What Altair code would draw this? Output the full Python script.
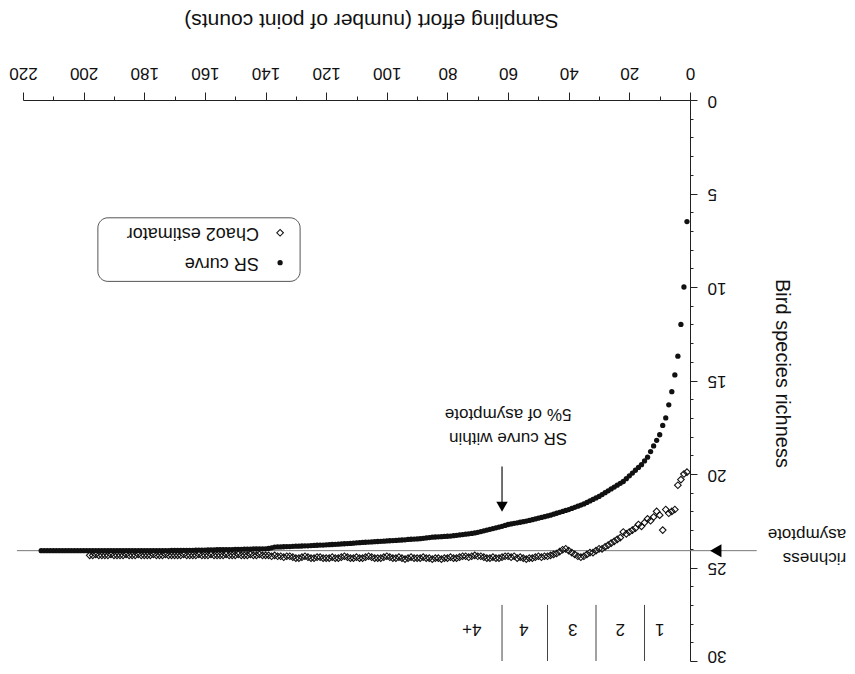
import altair as alt
import pandas as pd

# ---------------- data ----------------
sr_effort = list(range(1, 215))
sr_richness = [
    6.5, 10.0, 12.0, 13.7, 14.7, 15.6, 16.3, 17.0, 17.4, 17.9,
    18.2, 18.5, 18.8, 19.1, 19.3, 19.5, 19.65, 19.8, 19.95, 20.1,
    20.25, 20.4, 20.5, 20.6, 20.7, 20.8, 20.9, 21.0, 21.1, 21.2,
    21.28, 21.36, 21.44, 21.52, 21.6, 21.66, 21.72, 21.78, 21.84, 21.9,
    21.95, 22.0, 22.05, 22.1, 22.15, 22.2, 22.24, 22.28, 22.32, 22.36,
    22.4, 22.44, 22.48, 22.52, 22.55, 22.58, 22.61, 22.64, 22.67, 22.7,
    22.75, 22.8, 22.84, 22.88, 22.92, 22.96, 23.0, 23.04, 23.08, 23.12,
    23.15, 23.18, 23.2, 23.22, 23.24, 23.26, 23.28, 23.3, 23.32, 23.33,
    23.34, 23.35, 23.36, 23.37, 23.38, 23.4, 23.42, 23.44, 23.46, 23.47,
    23.48, 23.49, 23.5, 23.52, 23.53, 23.54, 23.55, 23.56, 23.57, 23.58,
    23.59, 23.6, 23.61, 23.62, 23.63, 23.64, 23.65, 23.66, 23.67, 23.68,
    23.7, 23.71, 23.72, 23.73, 23.74, 23.75, 23.76, 23.77, 23.78, 23.79,
    23.8, 23.8, 23.81, 23.82, 23.83, 23.84, 23.84, 23.85, 23.86, 23.86,
    23.87, 23.88, 23.88, 23.89, 23.9, 23.9, 23.91, 23.95, 23.98, 24.0,
    24.0, 24.0, 24.01, 24.01, 24.02, 24.02, 24.02, 24.03, 24.03, 24.03,
    24.04, 24.04, 24.04, 24.05, 24.05, 24.05, 24.06, 24.06, 24.06, 24.07,
    24.07, 24.07, 24.07, 24.08, 24.08, 24.08, 24.08, 24.09, 24.09, 24.09,
    24.09, 24.1, 24.1, 24.1, 24.1, 24.1, 24.1, 24.1, 24.1, 24.1,
    24.1, 24.1, 24.1, 24.1, 24.1, 24.1, 24.1, 24.1, 24.1, 24.1,
    24.1, 24.1, 24.1, 24.1, 24.1, 24.1, 24.1, 24.1, 24.1, 24.1,
    24.1, 24.1, 24.1, 24.1, 24.1, 24.1, 24.1, 24.1, 24.1, 24.1,
    24.1, 24.1, 24.1, 24.1,
]

chao_effort = list(range(1, 199))
chao_richness = [
    19.9, 20.0, 20.3, 20.6, 21.9, 22.0, 22.1, 21.9, 23.0, 22.2,
    22.0, 22.3, 22.5, 22.4, 22.6, 22.8, 22.7, 22.9, 23.0, 23.1,
    23.2, 23.1, 23.4, 23.5, 23.6, 23.7, 23.8, 23.9, 24.0, 24.0,
    24.1, 24.2, 24.2, 24.3, 24.4, 24.45, 24.4, 24.3, 24.2, 24.1,
    24.0, 24.05, 24.15, 24.25, 24.3, 24.35, 24.4, 24.4, 24.45, 24.4,
    24.45, 24.5, 24.5, 24.55, 24.5, 24.45, 24.5, 24.4, 24.45, 24.4,
    24.4, 24.45, 24.5, 24.5, 24.45, 24.5, 24.5, 24.45, 24.4, 24.4,
    24.35, 24.4, 24.45, 24.4, 24.4, 24.45, 24.5, 24.5, 24.45, 24.5,
    24.5, 24.55, 24.5, 24.5, 24.55, 24.5, 24.5, 24.45, 24.5, 24.5,
    24.5, 24.45, 24.5, 24.55, 24.5, 24.45, 24.5, 24.5, 24.45, 24.4,
    24.45, 24.5, 24.5, 24.5, 24.45, 24.4, 24.45, 24.5, 24.5, 24.45,
    24.5, 24.5, 24.45, 24.4, 24.45, 24.5, 24.5, 24.45, 24.5, 24.5,
    24.5, 24.45, 24.45, 24.5, 24.5, 24.45, 24.4, 24.45, 24.5, 24.5,
    24.45, 24.4, 24.4, 24.45, 24.4, 24.4, 24.35, 24.4, 24.35, 24.35,
    24.35, 24.3, 24.35, 24.35, 24.3, 24.35, 24.35, 24.35, 24.3, 24.35,
    24.35, 24.35, 24.3, 24.35, 24.35, 24.35, 24.35, 24.3, 24.35, 24.35,
    24.35, 24.3, 24.35, 24.35, 24.35, 24.35, 24.3, 24.35, 24.35, 24.35,
    24.35, 24.35, 24.3, 24.35, 24.35, 24.35, 24.3, 24.35, 24.35, 24.35,
    24.35, 24.3, 24.35, 24.35, 24.35, 24.3, 24.35, 24.35, 24.35, 24.35,
    24.3, 24.35, 24.35, 24.35, 24.35, 24.3, 24.35, 24.35,
]

asymptote = 24.1

x_ticks = list(range(0, 221, 10))
y_ticks = list(range(0, 31))

segment_bounds = [15, 31, 47, 62]
segment_labels = ["1", "2", "3", "4", "4+"]
segment_label_x = [10, 23, 38.7, 54.8, 72]

legend_names = ["SR curve", "Chao2 estimator"]

FONT = "Liberation Sans"

# ---------------- scales / axes ----------------
x_scale = alt.Scale(domain=[0, 220], reverse=True, nice=False, zero=False)
y_scale = alt.Scale(domain=[0, 30], reverse=True, nice=False, zero=False)

x_axis = alt.Axis(
    orient="top", values=x_ticks, grid=False,
    labelExpr="datum.value % 20 === 0 ? datum.label : ''",
    labelAngle=180, labelAlign="center", labelBaseline="top",
    labelFlush=False, labelOverlap=False, labelPadding=12,
    labelFont=FONT, labelFontSize=17, labelColor="#111",
    tickSize={"condition": {"test": "datum.value % 20 === 0", "value": 8}, "value": 4},
    tickColor="#222", domainColor="#222",
    title="Sampling effort (number of point counts)",
    titleAngle=180, titleFont=FONT, titleFontSize=21, titleFontWeight="normal",
    titleColor="#111", titleAlign="center", titleBaseline="middle",
    titleX=348, titleY=-81,
)
y_axis = alt.Axis(
    orient="right", values=y_ticks, grid=False,
    labelExpr="datum.value % 5 === 0 ? datum.label : ''",
    labelAngle=180, labelAlign="right", labelBaseline="middle",
    labelFlush=False, labelOverlap=False, labelPadding=10,
    labelOffset={"condition": {"test": "datum.value === 30", "value": -6}, "value": 0},
    labelFont=FONT, labelFontSize=17, labelColor="#111",
    tickSize={"condition": {"test": "datum.value % 5 === 0", "value": 7}, "value": 3},
    tickColor="#222", domainColor="#222",
    title="Bird species richness",
    titleAngle=90, titleFont=FONT, titleFontSize=20, titleFontWeight="normal",
    titleColor="#111", titleAlign="center", titleBaseline="middle",
    titleX=91, titleY=273,
)


def X(field="x"):
    return alt.X(f"{field}:Q", scale=x_scale, axis=x_axis)


def Y(field="y"):
    return alt.Y(f"{field}:Q", scale=y_scale, axis=y_axis)


n_chao = min(len(chao_effort), len(chao_richness))
sr_df = pd.DataFrame({"x": sr_effort, "y": sr_richness})
chao_df = pd.DataFrame({"x": chao_effort[:n_chao], "y": chao_richness[:n_chao]})

# asymptote line and arrow
asym_line = alt.Chart(pd.DataFrame({"x": [222], "x2": [-22], "y": [asymptote]})).mark_rule(
    color="#777", strokeWidth=1
).encode(x=X(), x2="x2:Q", y=Y())

asym_head = alt.Chart(pd.DataFrame({"x": [-8.5], "y": [asymptote]})).mark_point(
    shape="triangle-left", filled=True, color="#000", size=170, opacity=1
).encode(x=X(), y=Y())

sr_pts = alt.Chart(sr_df).mark_circle(color="#111", size=28, opacity=1).encode(x=X(), y=Y())

chao_pts = alt.Chart(chao_df).mark_point(
    shape="diamond", filled=False, color="#111", size=44, strokeWidth=1.1, opacity=1
).encode(x=X(), y=Y())

# SR-within-5% arrow
arrow_df = pd.DataFrame({"x": [62], "y": [19.6], "y2": [21.6]})
arrow_line = alt.Chart(arrow_df).mark_rule(color="#111", strokeWidth=1.2).encode(
    x=X(), y=Y(), y2="y2:Q"
)
arrow_head = alt.Chart(pd.DataFrame({"x": [62], "y": [21.75]})).mark_point(
    shape="triangle-down", filled=True, color="#000", size=130, opacity=1
).encode(x=X(), y=Y())

# annotation texts (upside down, like the reference)
center_text = pd.DataFrame({
    "x": [60, 60],
    "y": [18.1, 16.8],
    "t": ["SR curve within", "5% of asymptote"],
})
center_txt = alt.Chart(center_text).mark_text(
    angle=180, font=FONT, fontSize=17, align="center", baseline="middle", color="#111"
).encode(x=X(), y=Y(), text="t:N")

side_text = pd.DataFrame({
    "x": [-51.5, -51.5],
    "y": [24.5, 23.2],
    "t": ["richness", "asymptote"],
})
side_txt = alt.Chart(side_text).mark_text(
    angle=180, font=FONT, fontSize=17, align="left", baseline="middle", color="#111"
).encode(x=X(), y=Y(), text="t:N")

# segment markers 1..4+
seg_lines = alt.Chart(pd.DataFrame({
    "x": segment_bounds, "y": [27] * 4, "y2": [30] * 4
})).mark_rule(color="#444", strokeWidth=1).encode(x=X(), y=Y(), y2="y2:Q")
seg_txt = alt.Chart(pd.DataFrame({
    "x": segment_label_x, "y": [28.3] * 5, "t": segment_labels
})).mark_text(
    angle=180, font=FONT, fontSize=17, align="center", baseline="middle", color="#111"
).encode(x=X(), y=Y(), text="t:N")

# legend
legend_box = alt.Chart(pd.DataFrame({
    "x": [128.6], "x2": [195.3], "y": [6.3], "y2": [9.7]
})).mark_rect(
    fill="white", fillOpacity=0, stroke="#555", strokeWidth=1, cornerRadius=10
).encode(x=X(), x2="x2:Q", y=Y(), y2="y2:Q")
legend_dot = alt.Chart(pd.DataFrame({"x": [135.2], "y": [8.7]})).mark_circle(
    color="#111", size=28, opacity=1
).encode(x=X(), y=Y())
legend_dia = alt.Chart(pd.DataFrame({"x": [135.2], "y": [7.1]})).mark_point(
    shape="diamond", filled=False, color="#111", size=44, strokeWidth=1.1, opacity=1
).encode(x=X(), y=Y())
legend_txt = alt.Chart(pd.DataFrame({
    "x": [142.2, 142.2], "y": [8.7, 7.1], "t": legend_names
})).mark_text(
    angle=180, font=FONT, fontSize=18, align="left", baseline="middle", color="#111"
).encode(x=X(), y=Y(), text="t:N")

chart = alt.layer(
    asym_line, asym_head, chao_pts, sr_pts, arrow_line, arrow_head,
    center_txt, side_txt, seg_lines, seg_txt,
    legend_box, legend_dot, legend_dia, legend_txt,
).properties(
    width=667, height=561,
    autosize=alt.AutoSizeParams(type="none"),
    padding={"left": 15, "top": 92, "right": 157, "bottom": 5},
    background="white",
).configure_view(stroke=None)

chart.save("out.html", embed_options={"renderer": "svg", "actions": False})
